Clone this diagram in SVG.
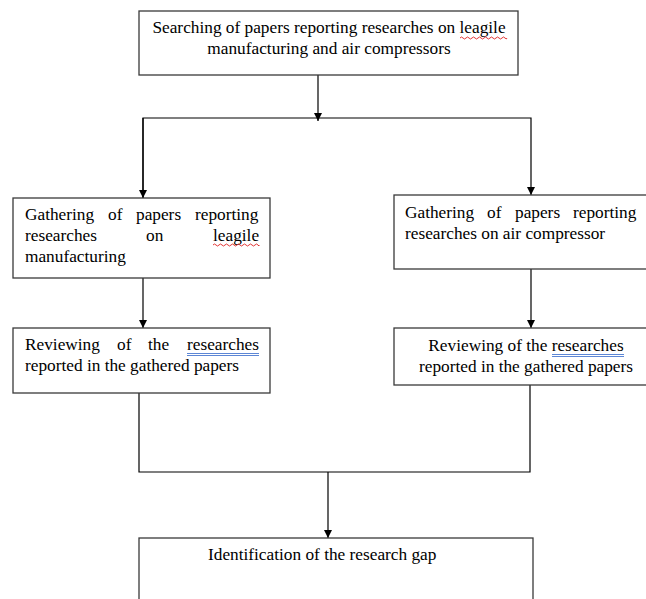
<svg xmlns="http://www.w3.org/2000/svg" width="646" height="599" viewBox="0 0 646 599">
<style>
.box{fill:#fff;stroke:#3a3a3a;stroke-width:1.3}
.t{font-family:"Liberation Serif","Times New Roman",serif;font-size:17.3px;fill:#000}
.c{text-anchor:middle}
.con{fill:none;stroke:#000;stroke-width:1.2}
.sq{fill:none;stroke:#e02020;stroke-width:0.9}
.bl{fill:none;stroke:#4a78d0;stroke-width:0.9}
</style>
<defs>
<marker id="ah" viewBox="0 0 10 10" refX="10" refY="5" markerWidth="8" markerHeight="8" markerUnits="userSpaceOnUse" orient="auto">
<path d="M0,0 L10,5 L0,10 Z" fill="#000"/>
</marker>
</defs>
<rect width="646" height="599" fill="#fff"/>
<g id="connectors">
<line class="con" x1="318" y1="75" x2="318" y2="121" marker-end="url(#ah)"/>
<polyline class="con" points="143,198 143,118 531,118 531,195" marker-end="url(#ah)"/>
<line class="con" x1="143" y1="118" x2="143" y2="198" marker-end="url(#ah)"/>
<line class="con" x1="143" y1="278" x2="143" y2="328" marker-end="url(#ah)"/>
<line class="con" x1="531" y1="269" x2="531" y2="328" marker-end="url(#ah)"/>
<polyline class="con" points="139,393 139,472 530,472 530,385"/>
<line class="con" x1="328" y1="472" x2="328" y2="538" marker-end="url(#ah)"/>
</g>
<g id="search">
<rect class="box" x="139" y="11" width="379" height="64"/>
<text class="t c" x="329" y="33">Searching of papers reporting researches on leagile</text>
<text class="t c" x="329" y="54">manufacturing and air compressors</text>
<path class="sq" d="M460,38 q1.5,-2 3,0 t3,0 t3,0 t3,0 t3,0 t3,0 t3,0 t3,0 t3,0 t3,0 t3,0 t3,0 t3,0 t3,0 t3,0 t2,0"/>
</g>
<g id="gather-leagile">
<rect class="box" x="13" y="198" width="257" height="80"/>
<text class="t" y="220"><tspan x="25">Gathering</tspan><tspan x="108">of</tspan><tspan x="136">papers</tspan><tspan x="195">reporting</tspan></text>
<text class="t" y="241"><tspan x="25">researches</tspan><tspan x="146">on</tspan><tspan x="213">leagile</tspan></text>
<text class="t" x="25" y="262">manufacturing</text>
<path class="sq" d="M213,245 q1.5,-2 3,0 t3,0 t3,0 t3,0 t3,0 t3,0 t3,0 t3,0 t3,0 t3,0 t3,0 t3,0 t3,0 t3,0 t3,0 t1,0"/>
</g>
<g id="gather-air">
<rect class="box" x="394" y="195" width="270" height="74"/>
<text class="t" y="218"><tspan x="405">Gathering</tspan><tspan x="487">of</tspan><tspan x="515">papers</tspan><tspan x="573">reporting</tspan></text>
<text class="t" x="405" y="239">researches on air compressor</text>
</g>
<g id="review-leagile">
<rect class="box" x="13" y="328" width="257" height="65"/>
<text class="t" y="350"><tspan x="25">Reviewing</tspan><tspan x="117">of</tspan><tspan x="148">the</tspan><tspan x="187">researches</tspan></text>
<text class="t" x="25" y="371">reported in the gathered papers</text>
<path class="bl" d="M187,353.5 H259 M187,355.5 H259"/>
</g>
<g id="review-air">
<rect class="box" x="394" y="328" width="270" height="57"/>
<text class="t c" x="526" y="351">Reviewing of the researches</text>
<text class="t c" x="526" y="372">reported in the gathered papers</text>
<path class="bl" d="M552,354.5 H624 M552,356.5 H624"/>
</g>
<g id="gap">
<rect class="box" x="139" y="538" width="394" height="80"/>
<text class="t" x="208" y="560">Identification of the research gap</text>
</g>
</svg>
